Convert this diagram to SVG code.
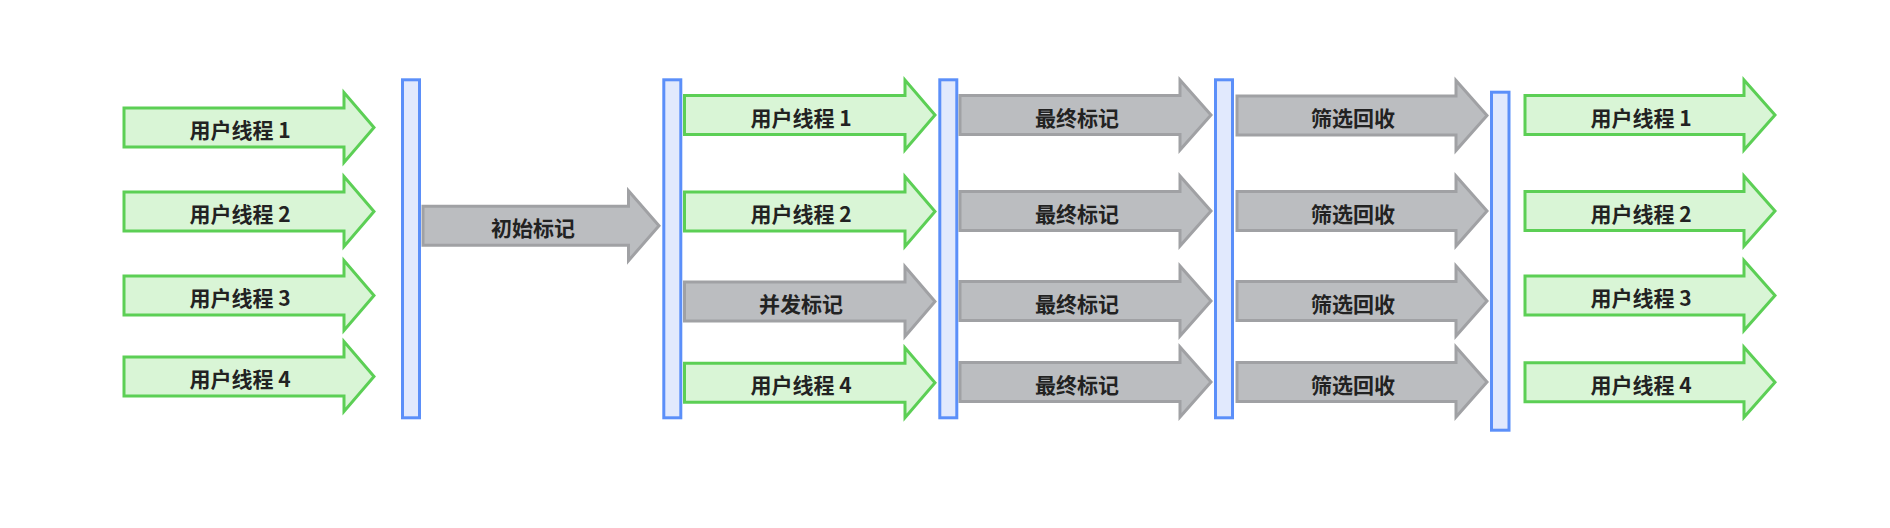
<svg xmlns="http://www.w3.org/2000/svg" width="1890" height="528" viewBox="0 0 1890 528">
<style>
.g{fill:#d9f5d6;stroke:#5ccf55;stroke-width:3;stroke-linejoin:miter}
.y{fill:#bbbdc0;stroke:#a0a1a4;stroke-width:3;stroke-linejoin:miter}
.b{fill:#e1e9fd;stroke:#5b8ff9;stroke-width:3}
text{font-family:"Noto Sans CJK SC","Noto Sans",sans-serif;font-weight:bold;font-size:21px;fill:#222;text-anchor:middle}
</style>
<rect width="1890" height="528" fill="#ffffff"/>
<g id="bars">
<rect id="bar1" class="b" x="402.5" y="79.8" width="17" height="338"/>
<rect id="bar2" class="b" x="663.8" y="79.8" width="17" height="338"/>
<rect id="bar3" class="b" x="939.8" y="79.8" width="17" height="338"/>
<rect id="bar4" class="b" x="1215.5" y="79.8" width="17" height="338"/>
<rect id="bar5" class="b" x="1491.5" y="92.2" width="17.5" height="338"/>
</g>
<g id="connectors">
<g id="c1r1"><path class="g" d="M124,108 H344 V92.5 L374,127.5 L344,162.5 V147 H124 Z"/><text x="240" y="138">用户线程 1</text></g>
<g id="c1r2"><path class="g" d="M124,192 H344 V176.5 L374,211.5 L344,246.5 V231 H124 Z"/><text x="240" y="222">用户线程 2</text></g>
<g id="c1r3"><path class="g" d="M124,276 H344 V260.5 L374,295.5 L344,330.5 V315 H124 Z"/><text x="240" y="306">用户线程 3</text></g>
<g id="c1r4"><path class="g" d="M124,357 H344 V341.5 L374,376.5 L344,411.5 V396 H124 Z"/><text x="240" y="387">用户线程 4</text></g>

<g id="init"><path class="y" d="M423,206.2 H628.5 V190.7 L659,225.7 L628.5,260.7 V245.2 H423 Z"/><text x="533" y="236.2">初始标记</text></g>

<g id="c2r1"><path class="g" d="M684.5,95.5 H905 V80 L935,115 L905,150 V134.5 H684.5 Z"/><text x="801" y="125.5">用户线程 1</text></g>
<g id="c2r2"><path class="g" d="M684.5,192 H905 V176.5 L935,211.5 L905,246.5 V231 H684.5 Z"/><text x="801" y="222">用户线程 2</text></g>
<g id="c2r3"><path class="y" d="M684.5,282 H905 V266.5 L935,301.5 L905,336.5 V321 H684.5 Z"/><text x="801" y="312">并发标记</text></g>
<g id="c2r4"><path class="g" d="M684.5,363.2 H905 V347.7 L935,382.7 L905,417.7 V402.2 H684.5 Z"/><text x="801" y="393.2">用户线程 4</text></g>

<g id="c3r1"><path class="y" d="M960,95.5 H1180 V80 L1211,115 L1180,150 V134.5 H960 Z"/><text x="1077" y="125.5">最终标记</text></g>
<g id="c3r2"><path class="y" d="M960,191.5 H1180 V176 L1211,211 L1180,246 V230.5 H960 Z"/><text x="1077" y="221.5">最终标记</text></g>
<g id="c3r3"><path class="y" d="M960,281.5 H1180 V266 L1211,301 L1180,336 V320.5 H960 Z"/><text x="1077" y="311.5">最终标记</text></g>
<g id="c3r4"><path class="y" d="M960,362.5 H1180 V347 L1211,382 L1180,417 V401.5 H960 Z"/><text x="1077" y="392.5">最终标记</text></g>

<g id="c4r1"><path class="y" d="M1237,96 H1456 V80.5 L1487,115.5 L1456,150.5 V135 H1237 Z"/><text x="1353" y="126">筛选回收</text></g>
<g id="c4r2"><path class="y" d="M1237,191.5 H1456 V176 L1487,211 L1456,246 V230.5 H1237 Z"/><text x="1353" y="221.5">筛选回收</text></g>
<g id="c4r3"><path class="y" d="M1237,281.5 H1456 V266 L1487,301 L1456,336 V320.5 H1237 Z"/><text x="1353" y="311.5">筛选回收</text></g>
<g id="c4r4"><path class="y" d="M1237,362.5 H1456 V347 L1487,382 L1456,417 V401.5 H1237 Z"/><text x="1353" y="392.5">筛选回收</text></g>

<g id="c5r1"><path class="g" d="M1525,95.5 H1744 V80 L1775,115 L1744,150 V134.5 H1525 Z"/><text x="1641" y="125.5">用户线程 1</text></g>
<g id="c5r2"><path class="g" d="M1525,191.5 H1744 V176 L1775,211 L1744,246 V230.5 H1525 Z"/><text x="1641" y="221.5">用户线程 2</text></g>
<g id="c5r3"><path class="g" d="M1525,276 H1744 V260.5 L1775,295.5 L1744,330.5 V315 H1525 Z"/><text x="1641" y="306">用户线程 3</text></g>
<g id="c5r4"><path class="g" d="M1525,362.8 H1744 V347.3 L1775,382.3 L1744,417.3 V401.8 H1525 Z"/><text x="1641" y="392.8">用户线程 4</text></g>
</g>
</svg>
